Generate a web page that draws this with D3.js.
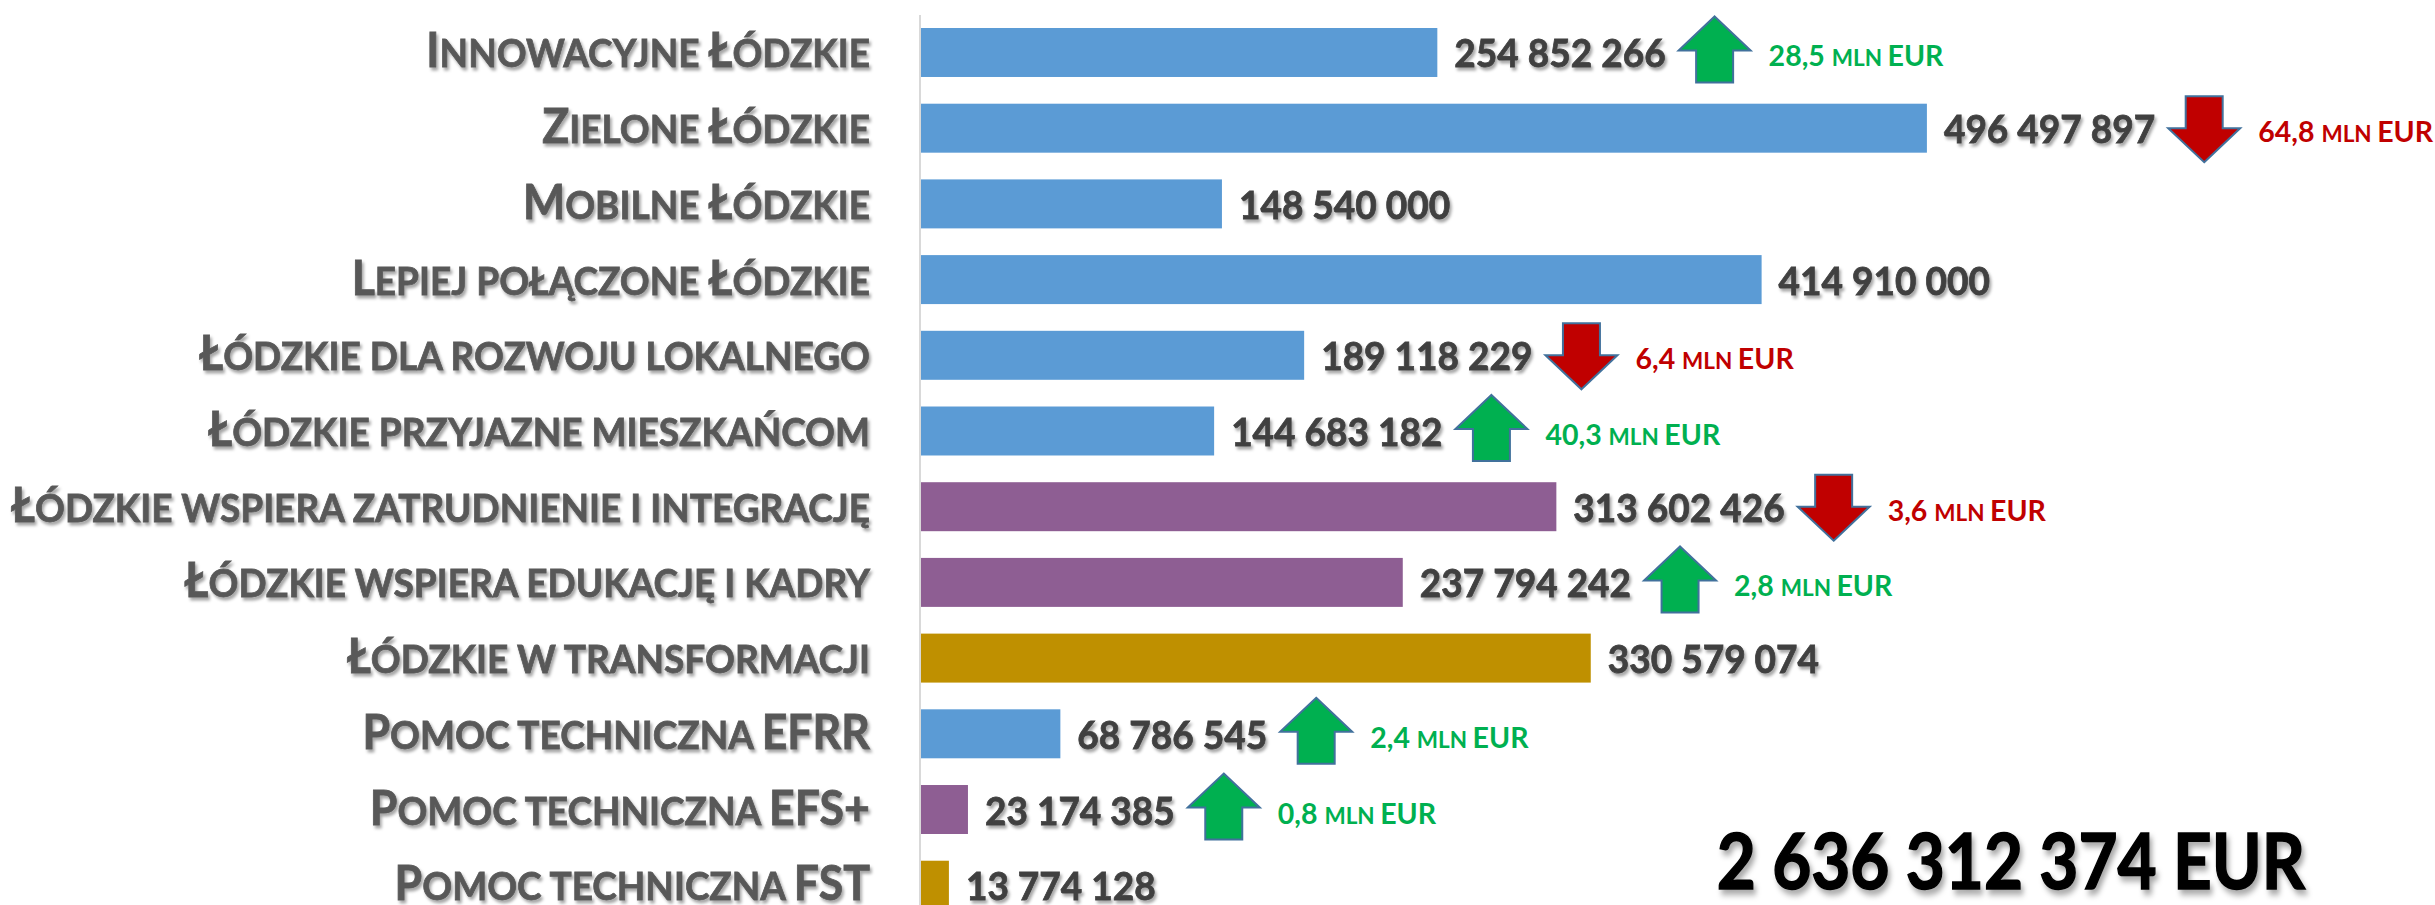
<!DOCTYPE html>
<html lang="pl">
<head>
<meta charset="utf-8">
<title>Alokacja FEŁ 2021-2027</title>
<script src="https://cdn.jsdelivr.net/npm/d3@7"></script>
<style>
  html, body { margin: 0; padding: 0; background: #fff; }
  svg { display: block; font-family: "Lato", "Open Sans", sans-serif; font-weight: bold; }
</style>
</head>
<body>
<script>
// dane
const categories = [
  "Innowacyjne Łódzkie",
  "Zielone Łódzkie",
  "Mobilne Łódzkie",
  "Lepiej połączone Łódzkie",
  "Łódzkie dla rozwoju lokalnego",
  "Łódzkie przyjazne mieszkańcom",
  "Łódzkie wspiera zatrudnienie i integrację",
  "Łódzkie wspiera edukację i kadry",
  "Łódzkie w transformacji",
  "Pomoc techniczna EFRR",
  "Pomoc techniczna EFS+",
  "Pomoc techniczna FST"
];
const values = [254852266, 496497897, 148540000, 414910000, 189118229, 144683182,
                313602426, 237794242, 330579074, 68786545, 23174385, 13774128];
const funds = ["EFRR", "EFRR", "EFRR", "EFRR", "EFRR", "EFRR",
               "EFS+", "EFS+", "FST", "EFRR", "EFS+", "FST"];
// zmiana w mln EUR (null = brak strzałki)
const changes = [28.5, -64.8, null, null, -6.4, 40.3, -3.6, 2.8, null, 2.4, 0.8, null];

const w = 2435, h = 905;
const fundColor = d3.scaleOrdinal()
  .domain(["EFRR", "EFS+", "FST"])
  .range(["#5b9bd5", "#8e5e93", "#bf9000"]);

const svg = d3.select("body").append("svg")
  .attr("width", w)
  .attr("height", h);

// cienie pod tekstem
const defs = svg.append("defs");
defs.append("filter").attr("id", "shadow")
  .attr("x", "-5%").attr("y", "-20%").attr("width", "115%").attr("height", "160%")
  .append("feDropShadow")
  .attr("dx", 2).attr("dy", 3).attr("stdDeviation", 1.6)
  .attr("flood-color", "#000").attr("flood-opacity", 0.35);
defs.append("filter").attr("id", "shadowBig")
  .attr("x", "-5%").attr("y", "-20%").attr("width", "115%").attr("height", "160%")
  .append("feDropShadow")
  .attr("dx", 3).attr("dy", 5).attr("stdDeviation", 3)
  .attr("flood-color", "#000").attr("flood-opacity", 0.35);

const x = d3.scaleLinear()
  .domain([0, 500000000])
  .range([921, 1934]);

const y = d3.scaleBand()
  .domain(categories)
  .range([28, 909.7])
  .paddingInner(0.353)
  .paddingOuter(0);

const fmt = v => d3.format(",")(v).replace(/,/g, " ");

// rozbija tekst na kapitaliki
function smallCaps(sel, text, big, small) {
  const runs = [];
  for (const ch of text) {
    const lower = ch !== ch.toUpperCase();
    const isSpace = ch === " ";
    const last = runs[runs.length - 1];
    if (last && (isSpace || last.lower === lower)) last.t += ch;
    else runs.push({ t: ch, lower: lower });
  }
  runs.forEach(r => {
    sel.append("tspan")
      .attr("font-size", r.lower ? small : big)
      .text(r.t.toUpperCase());
  });
}

// oś
svg.append("line")
  .attr("x1", 920).attr("x2", 920)
  .attr("y1", 15).attr("y2", h)
  .attr("stroke", "#d9d9d9")
  .attr("stroke-width", 2);

// etykiety kategorii
const labelSx = 0.95;
svg.selectAll(".cat")
  .data(categories)
  .enter()
  .append("text")
  .attr("class", "cat")
  .attr("transform", d => `translate(870,${y(d) + y.bandwidth() / 2 + 15}) scale(${labelSx},1)`)
  .attr("text-anchor", "end")
  .attr("fill", "#595959")
  .attr("stroke", "#595959")
  .attr("stroke-width", 0.8)
  .attr("filter", "url(#shadow)")
  .each(function (d) { smallCaps(d3.select(this), d, 47, 39); });

// słupki
svg.selectAll(".bar")
  .data(values)
  .enter()
  .append("rect")
  .attr("class", "bar")
  .attr("x", x(0))
  .attr("y", (d, i) => y(categories[i]))
  .attr("width", d => x(d) - x(0))
  .attr("height", y.bandwidth())
  .attr("fill", (d, i) => fundColor(funds[i]));

// wartości
const valSx = 0.95;
const valLabels = svg.selectAll(".val")
  .data(values)
  .enter()
  .append("text")
  .attr("class", "val")
  .attr("transform", (d, i) => `translate(${x(d) + 17},${y(categories[i]) + y.bandwidth() / 2 + 15}) scale(${valSx},1)`)
  .attr("font-size", 39)
  .attr("fill", "#404040")
  .attr("stroke", "#404040")
  .attr("stroke-width", 0.8)
  .attr("filter", "url(#shadow)")
  .text(d => fmt(d));

// strzałki zmian
const aw = 72, ah = 66, sw = 37, hh = 34;
function arrowPath(cx, cy, up) {
  const t = cy - ah / 2, b = cy + ah / 2;
  if (up) {
    return `M${cx},${t} L${cx + aw / 2},${t + hh} L${cx + sw / 2},${t + hh} L${cx + sw / 2},${b}
            L${cx - sw / 2},${b} L${cx - sw / 2},${t + hh} L${cx - aw / 2},${t + hh} Z`;
  }
  return `M${cx},${b} L${cx + aw / 2},${b - hh} L${cx + sw / 2},${b - hh} L${cx + sw / 2},${t}
          L${cx - sw / 2},${t} L${cx - sw / 2},${b - hh} L${cx - aw / 2},${b - hh} Z`;
}

valLabels.each(function (d, i) {
  const c = changes[i];
  if (c === null) return;
  const up = c > 0;
  const labelEnd = x(d) + 17 + this.getComputedTextLength() * valSx;
  const cy = y(categories[i]) + y.bandwidth() / 2;
  const cx = labelEnd + 13 + aw / 2;
  svg.append("path")
    .attr("d", arrowPath(cx, up ? cy - 3 : cy + 1, up))
    .attr("fill", up ? "#00b050" : "#c00000")
    .attr("stroke", "#41719c")
    .attr("stroke-width", 2);
  const t = svg.append("text")
    .attr("transform", `translate(${cx + aw / 2 + 18},${cy + 14})`)
    .attr("fill", up ? "#00b050" : "#c00000");
  smallCaps(t, d3.format(".1f")(Math.abs(c)).replace(".", ",") + " mln EUR", 28.5, 22.5);
});

// suma
svg.append("text")
  .attr("transform", "translate(2305,889) scale(0.875,1)")
  .attr("text-anchor", "end")
  .attr("font-size", 77)
  .attr("fill", "#000")
  .attr("stroke", "#000")
  .attr("stroke-width", 1.5)
  .attr("filter", "url(#shadowBig)")
  .text(fmt(d3.sum(values)) + " EUR");
</script>
</body>
</html>
